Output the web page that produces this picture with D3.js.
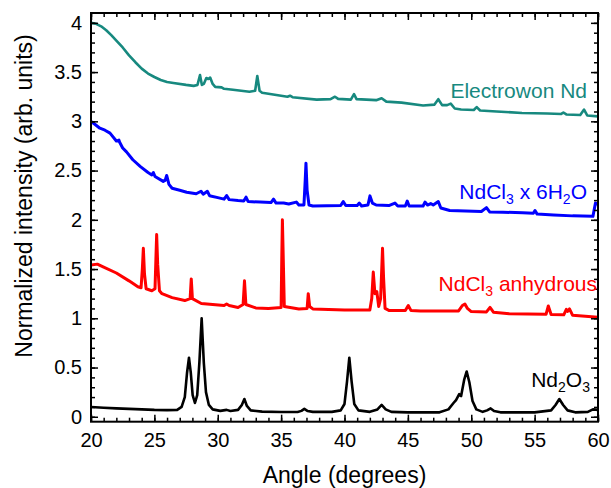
<!DOCTYPE html>
<html>
<head>
<meta charset="utf-8">
<script src="https://cdn.jsdelivr.net/npm/d3@7"></script>
<style>
  body { margin: 0; background: #fff; }
  svg text { font-family: "Liberation Sans", Arial, sans-serif; }
</style>
</head>
<body>
<svg id="chart" width="611" height="488"></svg>
<script>
// values: [angle (deg), normalized intensity]
var nd2o3 = [
  [20, 0.10], [21, 0.092], [22, 0.085], [23, 0.08], [24, 0.075], [25, 0.07], [26, 0.068],
  [26.8, 0.07], [27.15, 0.1], [27.4, 0.2], [27.58, 0.45], [27.73, 0.6], [27.87, 0.45],
  [28.02, 0.22], [28.2, 0.14], [28.38, 0.22], [28.55, 0.55], [28.73, 1.0], [28.9, 0.55],
  [29.07, 0.25], [29.3, 0.12], [29.6, 0.075], [30.2, 0.06], [30.7, 0.07], [31.0, 0.058],
  [31.6, 0.07], [31.9, 0.12], [32.1, 0.18], [32.3, 0.11], [32.6, 0.065], [33.5, 0.052],
  [35, 0.048], [36.3, 0.048], [36.6, 0.06], [36.83, 0.08], [37.1, 0.058], [37.5, 0.05],
  [39, 0.05], [39.7, 0.065], [40.0, 0.13], [40.2, 0.36], [40.38, 0.6], [40.56, 0.36],
  [40.77, 0.13], [41.1, 0.065], [42, 0.05], [42.6, 0.075], [42.93, 0.12], [43.25, 0.075],
  [43.7, 0.05], [45, 0.045], [47.5, 0.045], [48.2, 0.075], [48.6, 0.14], [48.8, 0.17],
  [49.05, 0.23], [49.2, 0.21], [49.45, 0.38], [49.64, 0.46], [49.85, 0.35], [50.1, 0.16],
  [50.4, 0.075], [50.9, 0.05], [51.25, 0.065], [51.53, 0.085], [51.8, 0.058], [52.3, 0.045],
  [55, 0.045], [56.3, 0.065], [56.65, 0.12], [56.95, 0.18], [57.25, 0.12], [57.6, 0.065],
  [58.2, 0.045], [59.2, 0.05], [59.6, 0.075], [60, 0.07]
];

var ndcl3Anhydrous = [
  [20, 1.54], [20.5, 1.55], [21, 1.52], [22, 1.46], [23, 1.38], [23.7, 1.32], [23.95, 1.31],
  [24.05, 1.5], [24.13, 1.71], [24.22, 1.45], [24.35, 1.3], [24.8, 1.28], [25.05, 1.3],
  [25.12, 1.6], [25.18, 1.85], [25.26, 1.55], [25.4, 1.28], [25.6, 1.25], [26.4, 1.21],
  [27.4, 1.18], [27.82, 1.2], [27.91, 1.4], [28.0, 1.2], [28.7, 1.15], [30.5, 1.13],
  [30.7, 1.145], [30.9, 1.13], [31.6, 1.11], [32.0, 1.14], [32.11, 1.38], [32.22, 1.14],
  [33, 1.105], [34, 1.1], [35.0, 1.11], [35.05, 1.6], [35.1, 2.0], [35.17, 1.6], [35.25, 1.12],
  [36.4, 1.094], [37.05, 1.1], [37.14, 1.25], [37.25, 1.12], [37.5, 1.095], [40, 1.084],
  [42, 1.085], [42.15, 1.2], [42.27, 1.47], [42.4, 1.25], [42.55, 1.27], [42.7, 1.12],
  [42.85, 1.2], [43.0, 1.71], [43.08, 1.42], [43.2, 1.1], [43.5, 1.08], [44.8, 1.08],
  [45.03, 1.13], [45.25, 1.078], [46, 1.075], [49, 1.075], [49.3, 1.13], [49.5, 1.145],
  [49.7, 1.1], [50, 1.068], [51.2, 1.065], [51.48, 1.11], [51.75, 1.062], [53, 1.045],
  [55.9, 1.04], [56.08, 1.125], [56.3, 1.038], [57.3, 1.035], [57.5, 1.09], [57.6, 1.07],
  [57.75, 1.095], [58, 1.03], [59, 1.02], [60, 1.01]
];

var ndcl3Hydrate = [
  [20, 3.0], [20.3, 2.97], [20.7, 2.93], [21.1, 2.91], [21.5, 2.88], [22.0, 2.8], [22.2, 2.81],
  [22.25, 2.79], [22.5, 2.73], [22.8, 2.69], [23.3, 2.61], [23.9, 2.54], [24.5, 2.48],
  [24.8, 2.456], [24.92, 2.48], [25.05, 2.44], [25.7, 2.39], [25.85, 2.4], [25.97, 2.45],
  [26.15, 2.36], [26.4, 2.32], [27, 2.3], [27.55, 2.28], [28.3, 2.265], [28.68, 2.29],
  [28.85, 2.26], [29.18, 2.29], [29.35, 2.245], [30, 2.225], [30.5, 2.21], [30.7, 2.246],
  [30.9, 2.205], [31.6, 2.195], [32.05, 2.19], [32.23, 2.23], [32.4, 2.185], [33.35, 2.18],
  [34.2, 2.175], [34.4, 2.21], [34.6, 2.17], [35.2, 2.17], [35.6, 2.16], [36.2, 2.18],
  [36.4, 2.15], [36.8, 2.15], [36.9, 2.4], [36.96, 2.575], [37.05, 2.3], [37.2, 2.15],
  [37.5, 2.14], [39.7, 2.145], [39.9, 2.185], [40.1, 2.145], [41.0, 2.145], [41.17, 2.17],
  [41.35, 2.14], [41.85, 2.15], [42.01, 2.243], [42.2, 2.17], [42.5, 2.15], [43.5, 2.145],
  [43.98, 2.17], [44.2, 2.14], [44.8, 2.14], [44.95, 2.19], [45.1, 2.14], [46.2, 2.14],
  [46.35, 2.18], [46.55, 2.15], [46.8, 2.165], [47.0, 2.15], [47.4, 2.185], [47.6, 2.12],
  [48.3, 2.094], [50.8, 2.085], [51.2, 2.124], [51.45, 2.08], [52.5, 2.077], [54.06, 2.072],
  [54.9, 2.066], [55.03, 2.094], [55.2, 2.058], [56.5, 2.05], [58, 2.04], [59.6, 2.035],
  [59.8, 2.17], [60, 2.16]
];

var electrowonNd = [
  [20, 4.0], [20.4, 3.99], [20.8, 3.965], [21.2, 3.925], [21.6, 3.875], [22, 3.82],
  [22.5, 3.75], [23, 3.67], [23.5, 3.6], [24, 3.535], [24.5, 3.485], [25, 3.45],
  [25.5, 3.42], [26, 3.4], [26.5, 3.39], [27.5, 3.37], [28.1, 3.36], [28.4, 3.37], [28.6, 3.47],
  [28.75, 3.37], [28.9, 3.38], [29.1, 3.44], [29.25, 3.43], [29.4, 3.445], [29.6, 3.38],
  [29.8, 3.35], [30.3, 3.345], [30.5, 3.33], [31.2, 3.32], [32.5, 3.3], [32.95, 3.31],
  [33.12, 3.46], [33.3, 3.31], [33.5, 3.29], [35.5, 3.25], [35.7, 3.26], [35.9, 3.245],
  [37.8, 3.22], [38.9, 3.225], [39.25, 3.25], [39.5, 3.228], [40.5, 3.22], [40.75, 3.276],
  [40.95, 3.225], [42.5, 3.215], [42.93, 3.235], [43.3, 3.2], [44.5, 3.19], [46.2, 3.16],
  [47.1, 3.17], [47.4, 3.225], [47.7, 3.165], [48.1, 3.165], [48.38, 3.18], [48.7, 3.13],
  [49.2, 3.12], [50.2, 3.115], [50.43, 3.145], [50.7, 3.11], [52, 3.1], [54, 3.085],
  [56, 3.08], [57.1, 3.075], [57.27, 3.09], [57.5, 3.07], [58.6, 3.065], [58.9, 3.12],
  [59.15, 3.06], [60, 3.05]
];

var xTicks = [20, 25, 30, 35, 40, 45, 50, 55, 60];
var yTicks = [0, 0.5, 1, 1.5, 2, 2.5, 3, 3.5, 4];

var TEAL = '#17897f';

var svg = d3.select('#chart');
// plot box (note: "top" is a window global, so prefixed names)
var plotL = 91, plotR = 598, plotT = 13, plotB = 421.7;

var x = d3.scaleLinear().domain([20, 60]).range([plotL, plotR]);
var y = d3.scaleLinear().domain([-0.05, 4.1]).range([plotB, plotT]);

var line = d3.line()
  .x(function(d) { return x(d[0]); })
  .y(function(d) { return y(d[1]); });

var series = [
  {data: nd2o3, color: '#000', width: 2.6},
  {data: ndcl3Anhydrous, color: '#ff0000', width: 3},
  {data: ndcl3Hydrate, color: '#0000ff', width: 3},
  {data: electrowonNd, color: TEAL, width: 2.6}
];

svg.append('defs').append('clipPath').attr('id', 'clip')
  .append('rect')
  .attr('x', plotL).attr('y', plotT)
  .attr('width', plotR - plotL).attr('height', plotB - plotT);

svg.append('g')
  .attr('clip-path', 'url(#clip)')
  .selectAll('path')
  .data(series)
  .enter().append('path')
  .attr('d', function(d) { return line(d.data); })
  .attr('fill', 'none')
  .attr('stroke', function(d) { return d.color; })
  .attr('stroke-width', function(d) { return d.width; })
  .attr('stroke-linejoin', 'round');

// axes, ticks inward on all four sides
function styleAxis(g) {
  g.select('.domain').remove();
  g.selectAll('line').attr('stroke', '#000').attr('stroke-width', 1.5);
  g.selectAll('text').attr('fill', '#000').attr('font-size', '20px')
    .style('font-family', '"Liberation Sans", Arial, sans-serif');
}

var minorX = d3.range(20, 61, 1);
var minorY = d3.range(0, 41, 1).map(function(i) { return i / 10; });

svg.append('g').attr('transform', 'translate(0,' + plotB + ')')
  .call(d3.axisBottom(x).tickValues(minorX).tickFormat('').tickSizeInner(-4).tickSizeOuter(0))
  .call(styleAxis);
svg.append('g').attr('transform', 'translate(0,' + plotB + ')')
  .call(d3.axisBottom(x).tickValues(xTicks).tickFormat(d3.format('d'))
    .tickSizeInner(-7).tickSizeOuter(0).tickPadding(11))
  .call(styleAxis);
svg.append('g').attr('transform', 'translate(0,' + plotT + ')')
  .call(d3.axisTop(x).tickValues(minorX).tickFormat('').tickSizeInner(-4).tickSizeOuter(0))
  .call(styleAxis);
svg.append('g').attr('transform', 'translate(0,' + plotT + ')')
  .call(d3.axisTop(x).tickValues(xTicks).tickFormat('').tickSizeInner(-7).tickSizeOuter(0))
  .call(styleAxis);

svg.append('g').attr('transform', 'translate(' + plotL + ',0)')
  .call(d3.axisLeft(y).tickValues(minorY).tickFormat('').tickSizeInner(-4).tickSizeOuter(0))
  .call(styleAxis);
svg.append('g').attr('transform', 'translate(' + plotL + ',0)')
  .call(d3.axisLeft(y).tickValues(yTicks).tickFormat(function(d) { return String(d); })
    .tickSizeInner(-7).tickSizeOuter(0).tickPadding(9))
  .call(styleAxis);
svg.append('g').attr('transform', 'translate(' + plotR + ',0)')
  .call(d3.axisRight(y).tickValues(minorY).tickFormat('').tickSizeInner(-4).tickSizeOuter(0))
  .call(styleAxis);
svg.append('g').attr('transform', 'translate(' + plotR + ',0)')
  .call(d3.axisRight(y).tickValues(yTicks).tickFormat('').tickSizeInner(-7).tickSizeOuter(0))
  .call(styleAxis);

// frame
svg.append('rect')
  .attr('x', plotL).attr('y', plotT)
  .attr('width', plotR - plotL).attr('height', plotB - plotT)
  .attr('fill', 'none')
  .attr('stroke', '#000')
  .attr('stroke-width', 2);

// axis titles
svg.append('text')
  .attr('x', (plotL + plotR) / 2)
  .attr('y', 483)
  .attr('text-anchor', 'middle')
  .attr('font-size', '23px')
  .text('Angle (degrees)');

svg.append('text')
  .attr('transform', 'translate(32,196) rotate(-90)')
  .attr('text-anchor', 'middle')
  .attr('font-size', '23px')
  .text('Normalized intensity (arb. units)');

// series labels, parts: [text, subscript?]
var labels = [
  {parts: [['Electrowon Nd', false]], x: 587, y: 98, color: TEAL},
  {parts: [['NdCl', false], ['3', true], [' x 6H', false], ['2', true], ['O', false]], x: 587, y: 199, color: '#0000ff'},
  {parts: [['NdCl', false], ['3', true], [' anhydrous', false]], x: 597, y: 291, color: '#ff0000'},
  {parts: [['Nd', false], ['2', true], ['O', false], ['3', true]], x: 590, y: 387, color: '#000'}
];

labels.forEach(function(l) {
  var t = svg.append('text')
    .attr('x', l.x)
    .attr('y', l.y)
    .attr('text-anchor', 'end')
    .attr('font-size', '21px')
    .attr('fill', l.color);
  var shifted = false;
  l.parts.forEach(function(p) {
    var dy = 0;
    if (p[1] && !shifted) { dy = 5; shifted = true; }
    else if (!p[1] && shifted) { dy = -5; shifted = false; }
    t.append('tspan')
      .attr('dy', dy)
      .attr('font-size', p[1] ? '14px' : '21px')
      .text(p[0]);
  });
});
</script>
</body>
</html>
